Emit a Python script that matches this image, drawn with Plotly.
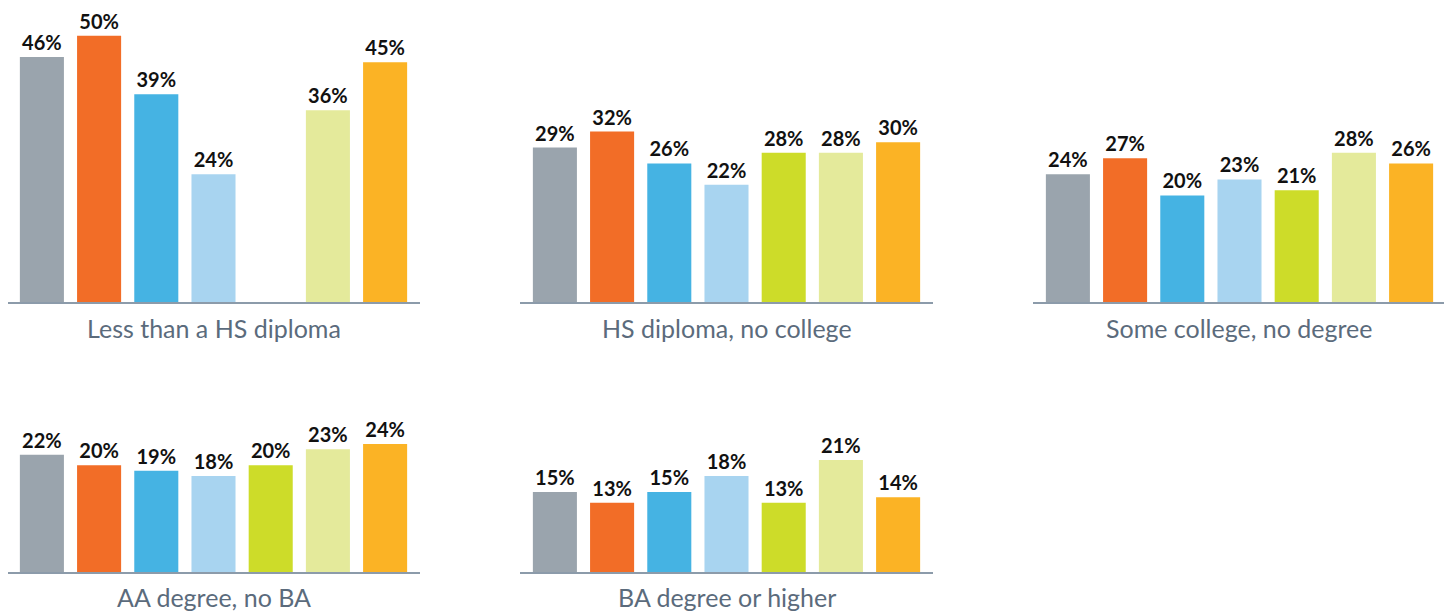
import plotly.graph_objects as go

categories = ["Group 1", "Group 2", "Group 3", "Group 4", "Group 5", "Group 6", "Group 7"]
colors = ["#9AA4AD", "#F26D27", "#45B3E3", "#A8D4F0", "#CDDC29", "#E4EA9B", "#FBB325"]

panel_titles = ["Less than a HS diploma", "HS diploma, no college", "Some college, no degree",
                "AA degree, no BA", "BA degree or higher"]
less_than_hs = [46, 50, 39, 24, None, 36, 45]
hs_no_college = [29, 32, 26, 22, 28, 28, 30]
some_college = [24, 27, 20, 23, 21, 28, 26]
aa_degree = [22, 20, 19, 18, 20, 23, 24]
ba_or_higher = [15, 13, 15, 18, 13, 21, 14]
panel_values = [less_than_hs, hs_no_college, some_college, aa_degree, ba_or_higher]

# page body has an 8px margin; figure coordinates are page coordinates minus 8
OFF = 8
W, H = 1444, 605
col_px = [(7, 420), (520, 933), (1033, 1446)]
row_px = [(302, 9, 55), (572, 412, 30)]
title_y_px = [328, 597]
positions = [(0, 0), (0, 1), (0, 2), (1, 0), (1, 1)]


def fx(px):
    return min(max((px - OFF) / W, 0), 1)


def fy(py):
    return min(max((H - (py - OFF)) / H, 0), 1)


fig = go.Figure()
for i, (vals, title, (r, c)) in enumerate(zip(panel_values, panel_titles, positions)):
    ax = "" if i == 0 else str(i + 1)
    x0, x1 = col_px[c]
    base, top, ymax = row_px[r]
    xd0, xd1 = fx(x0), fx(x1)
    # keep category spacing consistent if domain got clipped at the left edge
    left_units = -0.61 + (xd0 * W + OFF - x0) / ((x1 - x0) / 7.22)
    fig.add_trace(go.Bar(
        x=categories, y=vals, marker=dict(color=colors, line=dict(width=0)),
        width=0.77, text=[f"{v}%" if v is not None else "" for v in vals],
        textposition="outside", constraintext="none", cliponaxis=False,
        textfont=dict(family="Lato", size=20, color="#111111", weight="bold"),
        xaxis="x" + ax, yaxis="y" + ax, showlegend=False,
    ))
    fig.update_layout(**{
        "xaxis" + ax: dict(domain=[xd0, xd1], range=[left_units, 6.61], showticklabels=False,
                           ticks="", showgrid=False, zeroline=False, showline=True,
                           linecolor="#8C9BAA", linewidth=1.5, anchor="y" + ax,
                           categoryorder="array", categoryarray=categories),
        "yaxis" + ax: dict(domain=[fy(base), fy(top)], range=[0, ymax],
                           showticklabels=False, ticks="", showgrid=False, zeroline=False,
                           showline=False, anchor="x" + ax),
    })
    fig.add_annotation(text=title, x=fx((x0 + x1) / 2), y=fy(title_y_px[r]),
                       xref="paper", yref="paper", xanchor="center", yanchor="middle",
                       showarrow=False, font=dict(family="Lato", size=25, color="#5B6B7C"))

fig.update_layout(width=W, height=H, margin=dict(l=0, r=0, t=0, b=0),
                  plot_bgcolor="white", paper_bgcolor="white", bargap=0.2)
fig.write_html("out.html")
